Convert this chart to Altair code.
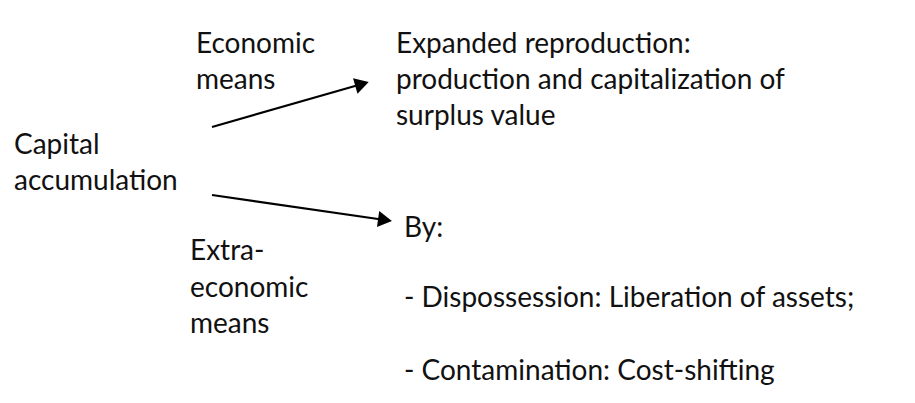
import altair as alt
import pandas as pd

# text blocks (one entry per line)
labels = [
    "Economic", "means",
    "Expanded reproduction:", "production and capitalization of", "surplus value",
    "Capital", "accumulation",
    "By:",
    "Extra-", "economic", "means",
    "- Dispossession: Liberation of assets;",
    "- Contamination: Cost-shifting",
]
label_x = [196, 196, 396, 396, 396, 14, 14, 404, 190, 190, 190, 404, 404]
label_y = [53, 89, 53, 89, 125, 154, 190, 237, 260, 297, 333, 307, 380]

# arrows: start and tip
arrow_x1 = [212, 212]
arrow_y1 = [127, 195]
arrow_x2 = [362, 385]
arrow_y2 = [84, 220]
arrow_angle = [344, 8]

texts = pd.DataFrame({"label": labels, "x": label_x, "y": label_y})
arrows = pd.DataFrame({"x1": arrow_x1, "y1": arrow_y1, "x2": arrow_x2, "y2": arrow_y2,
                       "angle": arrow_angle})

W, H = 899, 387
xs = alt.Scale(domain=[8, 8 + W], nice=False, zero=False)
ys = alt.Scale(domain=[8, 8 + H], nice=False, zero=False, reverse=True)

text_layer = alt.Chart(texts).mark_text(
    align="left", baseline="alphabetic", font="Lato", fontSize=28, color="#111111"
).encode(
    x=alt.X("x:Q", scale=xs, axis=None),
    y=alt.Y("y:Q", scale=ys, axis=None),
    text="label:N",
)

line_layer = alt.Chart(arrows).mark_rule(color="#000000", strokeWidth=2.2).encode(
    x=alt.X("x1:Q", scale=xs, axis=None),
    y=alt.Y("y1:Q", scale=ys, axis=None),
    x2="x2:Q",
    y2="y2:Q",
)

head_layer = alt.Chart(arrows).mark_point(
    shape="triangle-right", filled=True, color="#000000", opacity=1, size=260
).encode(
    x=alt.X("x2:Q", scale=xs, axis=None),
    y=alt.Y("y2:Q", scale=ys, axis=None),
    angle=alt.Angle("angle:Q", scale=None),
)

chart = alt.layer(line_layer, head_layer, text_layer).properties(
    width=W, height=H, padding=0, background="#ffffff",
    autosize=alt.AutoSizeParams(type="none")
).configure_view(stroke=None)

chart.save("out.html", embed_options={"renderer": "svg", "actions": False})
